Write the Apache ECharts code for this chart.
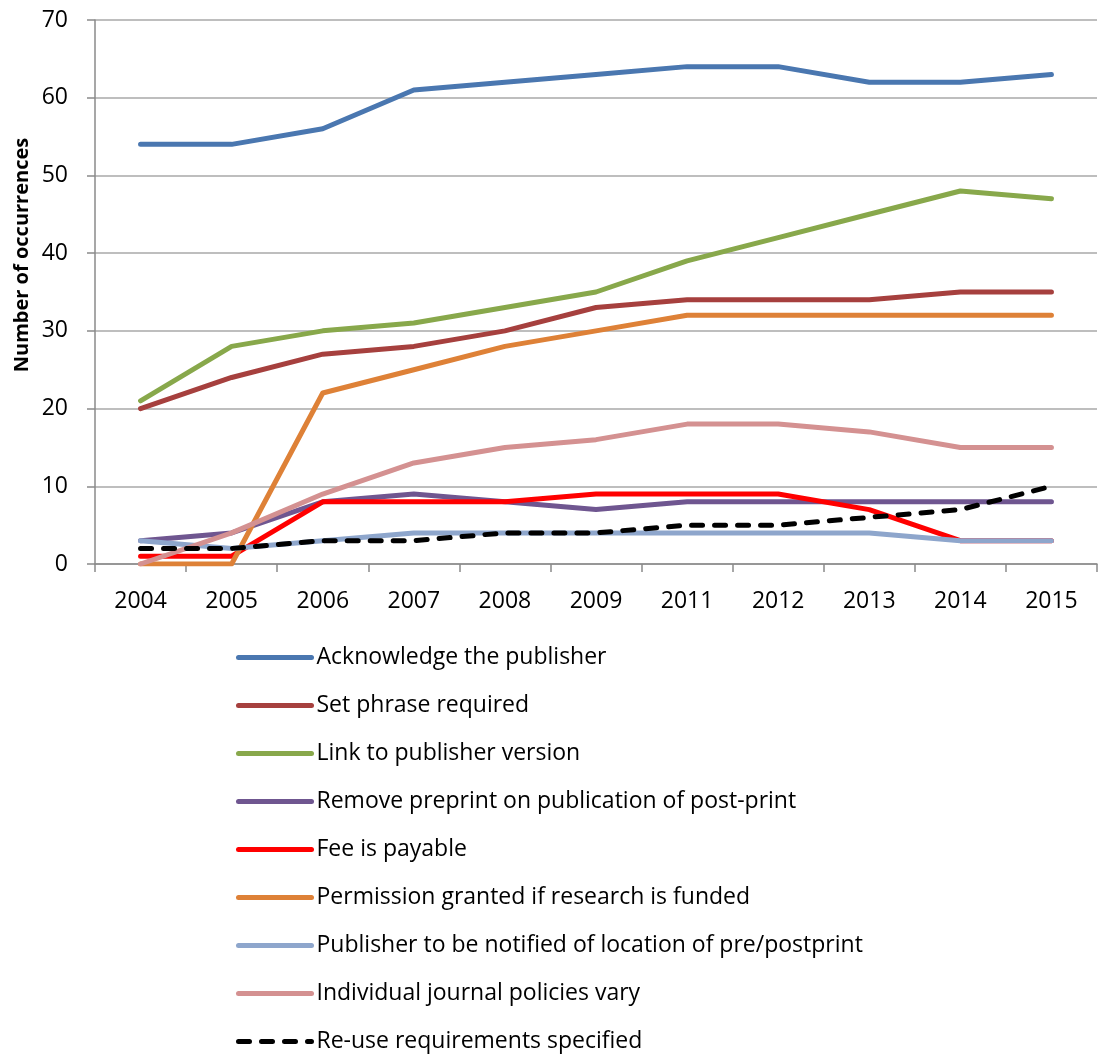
<!DOCTYPE html>
<html>
<head>
<meta charset="utf-8">
<script src="https://cdn.jsdelivr.net/npm/echarts@6/dist/echarts.min.js"></script>
<style>
  html, body { margin: 0; padding: 0; background: #fff; }
  #chart { width: 1098px; height: 1055px; }
</style>
</head>
<body>
<div id="chart"></div>
<script>
// Years on the category axis (2010 is not in the survey)
const years = ['2004', '2005', '2006', '2007', '2008', '2009', '2011', '2012', '2013', '2014', '2015'];

const acknowledgePublisher = [54, 54, 56, 61, 62, 63, 64, 64, 62, 62, 63];
const setPhraseRequired    = [20, 24, 27, 28, 30, 33, 34, 34, 34, 35, 35];
const linkToPublisher      = [21, 28, 30, 31, 33, 35, 39, 42, 45, 48, 47];
const removePreprint       = [3, 4, 8, 9, 8, 7, 8, 8, 8, 8, 8];
const feePayable           = [1, 1, 8, 8, 8, 9, 9, 9, 7, 3, 3];
const permissionFunded     = [0, 0, 22, 25, 28, 30, 32, 32, 32, 32, 32];
const publisherNotified    = [3, 2, 3, 4, 4, 4, 4, 4, 4, 3, 3];
const journalPoliciesVary  = [0, 4, 9, 13, 15, 16, 18, 18, 17, 15, 15];
const reuseRequirements    = [2, 2, 3, 3, 4, 4, 5, 5, 6, 7, 10];

const seriesDefs = [
  { name: 'Acknowledge the publisher', data: acknowledgePublisher, color: '#4a77b0' },
  { name: 'Set phrase required', data: setPhraseRequired, color: '#a6403e' },
  { name: 'Link to publisher version', data: linkToPublisher, color: '#88a84b' },
  { name: 'Remove preprint on publication of post-print', data: removePreprint, color: '#6f5690' },
  { name: 'Fee is payable', data: feePayable, color: '#ff0000' },
  { name: 'Permission granted if research is funded', data: permissionFunded, color: '#de8137' },
  { name: 'Publisher to be notified of location of pre/postprint', data: publisherNotified, color: '#8ea6cc' },
  { name: 'Individual journal policies vary', data: journalPoliciesVary, color: '#d49191' },
  { name: 'Re-use requirements specified', data: reuseRequirements, color: '#000000', dashed: true }
];

const FONT = '"Open Sans", "Noto Sans", sans-serif';

const chart = echarts.init(document.getElementById('chart'), null, { renderer: 'canvas' });

chart.setOption({
  animation: false,
  backgroundColor: '#ffffff',
  grid: { left: 95, right: 1, top: 20, height: 544 },
  xAxis: {
    type: 'category',
    data: years,
    boundaryGap: true,
    axisLine: { lineStyle: { color: '#8a8a8a', width: 1.5 } },
    axisTick: { show: true, length: 8, lineStyle: { color: '#8a8a8a', width: 1.5 } },
    axisLabel: { color: '#000', fontSize: 23, fontFamily: FONT, margin: 26 }
  },
  yAxis: {
    type: 'value',
    min: 0, max: 70, interval: 10,
    axisLine: { show: true, lineStyle: { color: '#8a8a8a', width: 1.5 } },
    axisTick: { show: true, length: 8, lineStyle: { color: '#8a8a8a', width: 1.5 } },
    axisLabel: { color: '#000', fontSize: 23, fontFamily: FONT, margin: 27 },
    splitLine: { lineStyle: { color: '#a8a8a8', width: 1.5 } }
  },
  graphic: [{
    type: 'text',
    x: 22,
    y: 255,
    rotation: Math.PI / 2,
    style: {
      text: 'Number of occurrences',
      fill: '#000',
      font: 'bold 20px ' + FONT,
      textAlign: 'center',
      textVerticalAlign: 'middle'
    }
  }],
  legend: {
    orient: 'vertical',
    left: 236,
    top: 646,
    padding: 0,
    itemWidth: 73,
    itemHeight: 14,
    itemGap: 25,
    itemStyle: { opacity: 0 },
    lineStyle: { width: 5, cap: 'round' },
    textStyle: { color: '#000', fontSize: 23, fontFamily: FONT },
    data: seriesDefs.map(s => s.name)
  },
  series: seriesDefs.map(s => ({
    name: s.name,
    type: 'line',
    data: s.data,
    symbol: 'none',
    color: s.color,
    lineStyle: {
      color: s.color,
      width: 5,
      type: s.dashed ? [11, 12] : 'solid',
      cap: 'round',
      join: 'round'
    }
  }))
});
</script>
</body>
</html>
